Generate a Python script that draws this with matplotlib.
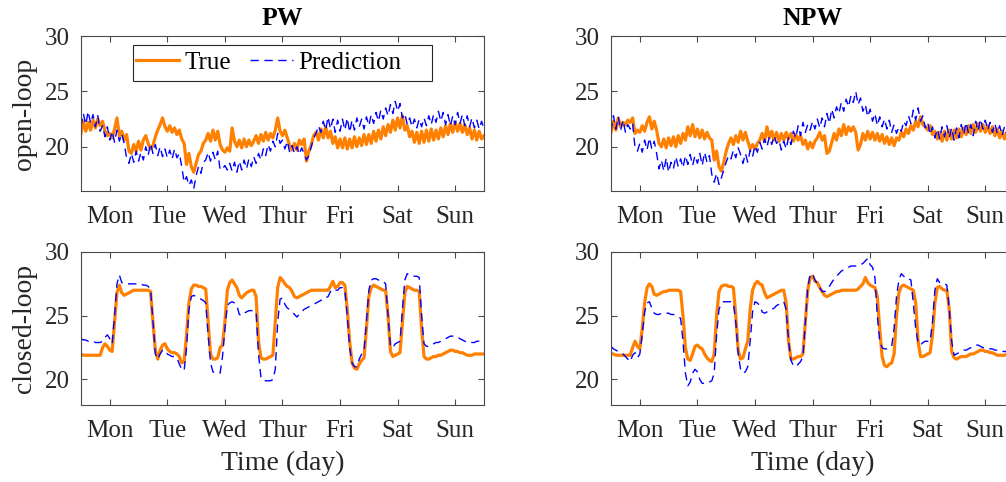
import numpy as np
import matplotlib
matplotlib.use("Agg")
import matplotlib.pyplot as plt
from matplotlib.patches import Rectangle

# Hourly room temperature over one week (hour 0 .. 168).
days = ["Mon", "Tue", "Wed", "Thur", "Fri", "Sat", "Sun"]
cols = ["PW", "NPW"]
rows = ["open-loop", "closed-loop"]

pw_ol_true = [
    21.2, 22.3, 21.4, 22.2, 21.5, 22.4, 21.7, 22.5, 21.9, 22.3, 21.4, 21.0,
    21.2, 20.8, 21.6, 22.6, 21.0, 21.4, 20.6, 21.1, 19.6, 19.4, 20.2, 19.6,
    20.5, 19.7, 20.6, 21.0, 20.3, 19.8, 20.1, 20.9, 21.5, 22.0, 22.6, 21.8,
    21.4, 21.9, 21.3, 21.7, 21.1, 21.5, 20.7, 20.3, 18.4, 19.4, 18.2, 17.7,
    18.5, 19.3, 19.6, 20.3, 20.6, 21.2, 20.5, 21.5, 20.6, 21.4, 20.2, 19.7,
    19.5, 19.9, 19.6, 21.7, 20.5, 20.0, 20.6, 19.9, 20.7, 20.0, 20.6, 20.1,
    20.5, 21.0, 20.3, 21.1, 20.5, 21.3, 20.6, 21.2, 20.8, 21.5, 22.6, 21.4,
    21.0, 21.5, 20.8, 20.1, 19.7, 20.3, 19.7, 20.6, 20.2, 20.7, 18.7, 19.6,
    20.2, 21.0, 21.3, 20.6, 21.6, 20.8, 21.8, 20.8, 21.4, 20.3, 20.9, 19.9,
    20.7, 19.9, 20.8, 19.8, 20.7, 19.9, 20.9, 20.0, 20.8, 20.1, 21.1, 20.2,
    21.1, 20.3, 21.4, 20.5, 21.5, 20.7, 21.8, 21.0, 22.0, 21.3, 22.4, 21.5,
    22.6, 21.7, 22.8, 21.5, 21.9, 20.9, 21.4, 20.4, 21.3, 20.3, 21.4, 20.4,
    21.5, 20.5, 21.6, 20.6, 21.5, 20.7, 21.7, 20.9, 21.9, 21.1, 22.1, 21.3,
    22.2, 21.4, 22.1, 21.3, 22.0, 21.1, 21.7, 20.7, 21.5, 20.6, 21.4, 20.7,
    21.0,
]
pw_ol_pred = [
    21.8, 23.0, 22.0, 23.2, 22.1, 22.9, 21.8, 22.8, 21.4, 21.9, 20.9, 21.8,
    20.6, 21.4, 20.4, 21.5, 20.5, 21.2, 20.3, 19.0, 18.5, 19.4, 18.6, 19.6,
    18.7, 19.5, 18.8, 20.0, 19.2, 20.3, 19.4, 20.2, 19.2, 20.0, 19.1, 19.8,
    19.0, 19.7, 18.9, 19.8, 19.0, 19.4, 18.2, 16.8, 17.3, 16.5, 17.0, 16.2,
    17.4, 18.2, 17.6, 18.6, 18.8, 19.5, 18.7, 19.5, 18.8, 19.6, 17.9, 18.0,
    18.3, 17.9, 18.5, 17.8, 18.6, 17.7, 18.7, 17.9, 18.8, 18.0, 18.9, 18.2,
    19.1, 18.5, 19.4, 18.8, 19.8, 19.2, 20.2, 19.6, 20.5, 20.0, 21.2, 20.3,
    20.6, 19.8, 20.5, 19.5, 20.1, 19.4, 20.0, 19.3, 19.9, 19.4, 18.8, 19.2,
    20.0, 20.8, 21.2, 21.9, 21.3, 22.3, 21.5, 22.7, 21.6, 22.5, 21.3, 22.4,
    21.4, 22.5, 21.5, 22.6, 21.3, 22.4, 21.5, 22.6, 21.8, 22.5, 21.6, 22.7,
    21.9, 22.9, 22.1, 23.1, 22.3, 23.3, 22.5, 23.5, 22.8, 23.8, 23.0, 24.1,
    23.2, 23.9, 22.6, 23.0, 22.0, 22.6, 21.8, 22.5, 21.7, 22.5, 21.8, 22.6,
    21.9, 22.8, 22.0, 22.9, 22.2, 23.2, 22.3, 23.1, 22.0, 22.9, 21.9, 22.8,
    22.0, 23.1, 22.1, 22.9, 21.9, 22.8, 21.8, 22.6, 21.7, 22.4, 21.6, 22.3,
    21.6,
]
npw_ol_true = [
    21.3, 22.3, 21.5, 22.6, 21.8, 22.2, 22.0, 22.4, 22.2, 22.6, 21.2, 21.5,
    21.3, 21.9, 21.4, 22.2, 22.7, 21.6, 22.3, 21.5, 20.3, 20.0, 20.7, 19.9,
    20.8, 20.1, 20.9, 20.0, 21.0, 20.3, 21.2, 20.6, 21.8, 21.0, 22.0, 20.9,
    21.6, 20.8, 21.5, 20.7, 21.3, 20.8, 20.6, 18.8, 19.6, 18.2, 17.8, 18.6,
    19.6, 20.3, 20.8, 20.2, 21.0, 20.4, 21.4, 20.6, 21.3, 20.5, 19.8, 20.2,
    19.8, 20.3, 20.6, 21.2, 20.5, 21.8, 20.8, 21.4, 20.6, 21.3, 20.5, 21.2,
    20.6, 21.3, 20.7, 21.2, 20.5, 21.1, 20.6, 21.0, 20.2, 20.6, 19.8, 20.4,
    19.9, 20.5, 20.8, 21.3, 20.6, 21.0, 19.4, 19.6, 20.4, 21.2, 20.6, 21.6,
    21.0, 22.0, 21.1, 21.8, 21.4, 21.8, 21.3, 19.7, 20.2, 21.2, 20.6, 21.4,
    20.7, 21.3, 20.6, 21.2, 20.5, 21.1, 20.3, 20.9, 20.2, 20.8, 20.1, 20.8,
    20.6, 21.3, 20.9, 21.6, 21.2, 21.9, 21.5, 22.3, 21.8, 22.7, 22.0, 21.8,
    21.5, 21.9, 21.1, 21.4, 20.7, 21.3, 20.5, 21.4, 20.6, 21.5, 20.7, 21.5,
    20.8, 21.6, 20.9, 21.7, 21.1, 21.9, 21.2, 22.0, 21.3, 22.1, 21.4, 22.0,
    21.3, 21.9, 21.2, 21.8, 21.0, 21.6, 20.8, 21.4, 20.7, 21.3, 20.8, 21.2,
    21.0,
]
npw_ol_pred = [
    21.4, 22.8, 21.6, 22.7, 21.5, 22.4, 21.3, 22.0, 21.6, 22.1, 19.9, 19.6,
    20.3, 19.5, 20.6, 19.7, 20.8, 19.8, 20.5, 19.4, 18.0, 18.8, 17.8, 19.0,
    17.7, 18.6, 18.0, 19.1, 18.2, 18.9, 18.1, 19.2, 18.4, 19.3, 18.3, 19.2,
    18.5, 19.4, 18.3, 19.5, 18.6, 19.2, 17.5, 16.8, 17.6, 16.6, 17.2, 17.9,
    18.6, 19.2, 18.9, 19.7, 19.0, 19.9, 19.3, 18.5, 19.4, 18.6, 19.7, 19.1,
    20.1, 19.5, 20.4, 19.8, 20.7, 20.0, 20.9, 20.2, 21.0, 20.3, 20.6, 19.7,
    20.5, 19.8, 20.9, 20.2, 21.4, 20.8, 21.9, 21.0, 22.2, 21.3, 22.0, 21.5,
    22.3, 21.6, 22.5, 21.7, 22.6, 21.8, 23.0, 22.1, 23.4, 22.6, 23.6, 23.0,
    24.0, 23.2, 24.3, 23.6, 24.6, 24.0, 25.0, 23.8, 24.4, 23.2, 23.8, 22.7,
    23.4, 22.3, 23.0, 21.9, 22.7, 21.8, 22.5, 21.6, 22.4, 21.3, 22.0, 21.2,
    21.8, 21.4, 22.3, 21.9, 22.8, 22.1, 23.3, 22.4, 23.5, 22.3, 22.8, 21.7,
    22.2, 21.1, 21.8, 20.8, 21.6, 20.7, 21.8, 20.9, 21.9, 20.8, 21.7, 20.6,
    21.7, 20.8, 22.0, 21.1, 22.2, 21.2, 22.0, 21.0, 22.3, 21.4, 22.5, 21.6,
    22.4, 21.5, 22.2, 21.3, 22.1, 21.2, 21.9, 21.0, 21.8, 21.1, 21.7, 21.0,
    21.2,
]

pw_cl_true = [
    22.0, 21.9, 21.9, 21.9, 21.9, 21.9, 21.9, 21.9, 21.9, 22.5, 22.8, 22.6,
    22.3, 22.2, 24.5, 26.8, 27.4, 26.8, 26.6, 26.7, 26.8, 26.9, 27.0, 27.0,
    27.0, 27.0, 27.0, 27.0, 27.0, 26.9, 24.5, 22.3, 21.6, 22.3, 22.7, 22.8,
    22.4, 22.2, 22.1, 22.1, 22.0, 21.8, 21.3, 21.4, 23.5, 26.0, 27.1, 27.4,
    27.4, 27.3, 27.3, 27.2, 27.1, 24.5, 22.0, 21.6, 21.6, 21.7, 22.5, 22.7,
    24.5, 27.0, 27.6, 27.8, 27.5, 27.2, 26.6, 26.4, 26.6, 26.8, 26.9, 27.0,
    27.0, 26.5, 23.0, 21.7, 21.6, 21.6, 21.7, 21.8, 21.9, 24.5, 27.2, 28.0,
    27.8, 27.5, 27.3, 27.2, 26.9, 26.5, 26.4, 26.5, 26.6, 26.7, 26.8, 26.9,
    27.0, 27.0, 27.0, 27.0, 27.0, 27.0, 27.0, 27.0, 27.3, 27.7, 27.2, 27.3,
    27.6, 27.6, 27.4, 25.5, 23.0, 21.3, 20.9, 20.8, 21.2, 21.5, 21.7, 24.0,
    26.5, 27.2, 27.4, 27.3, 27.2, 27.1, 27.0, 27.0, 25.0, 22.2, 21.8, 21.9,
    22.0, 22.1, 24.5, 26.8, 27.3, 27.2, 27.1, 27.0, 27.0, 26.9, 24.0, 21.8,
    21.6, 21.6, 21.7, 21.8, 21.8, 21.9, 21.9, 22.0, 22.1, 22.2, 22.3, 22.3,
    22.2, 22.2, 22.1, 22.1, 22.0, 21.9, 21.9, 21.9, 22.0, 22.0, 22.0, 22.0,
    22.0,
]
pw_cl_pred = [
    23.2, 23.1, 23.1, 23.0, 23.0, 23.0, 22.9, 22.9, 22.9, 23.0, 23.3, 23.5,
    23.2, 22.8, 25.0, 27.5, 28.2, 27.6, 27.5, 27.5, 27.5, 27.5, 27.5, 27.5,
    27.5, 27.5, 27.4, 27.4, 27.3, 27.1, 24.5, 22.0, 21.6, 22.0, 22.3, 22.3,
    22.0, 21.9, 21.8, 21.8, 21.7, 21.2, 20.8, 20.7, 22.5, 25.5, 26.5, 26.6,
    26.5, 26.4, 26.3, 26.2, 26.0, 23.5, 21.3, 20.6, 20.5, 20.5, 20.5, 21.8,
    24.0, 25.8, 26.0, 26.1, 26.0, 25.8, 25.1, 25.0, 25.2, 25.3, 25.4, 25.4,
    25.4, 25.3, 22.0, 20.2, 19.9, 19.9, 19.9, 19.9, 20.0, 20.8, 24.5, 26.3,
    26.4, 25.9, 25.6, 25.5, 25.3, 25.1, 24.9, 25.1, 25.3, 25.5, 25.6, 25.7,
    25.8, 25.9, 26.0, 26.1, 26.2, 26.4, 26.4, 26.5, 26.9, 27.1, 27.0, 27.0,
    27.2, 27.2, 27.0, 25.0, 22.5, 21.3, 21.0, 21.0, 21.6, 22.0, 22.3, 24.5,
    27.0, 27.8, 27.9, 27.9, 27.8, 27.8, 27.7, 27.5, 25.0, 22.6, 22.5, 22.8,
    22.9, 23.0, 25.5, 27.8, 28.3, 28.2, 28.1, 28.1, 28.1, 28.0, 25.0, 22.8,
    22.6, 22.6, 22.7, 22.8, 22.9, 22.9, 23.0, 23.1, 23.2, 23.3, 23.4, 23.4,
    23.3, 23.3, 23.2, 23.1, 23.0, 22.9, 22.9, 22.9, 22.9, 23.0, 23.0, 23.0,
    23.0,
]
npw_cl_true = [
    22.0, 22.0, 21.9, 21.9, 21.9, 21.9, 21.9, 21.9, 21.9, 22.5, 23.0, 22.6,
    22.4, 24.0, 26.0, 27.2, 27.5, 27.3, 26.7, 26.6, 26.7, 26.8, 26.9, 26.9,
    27.0, 27.0, 27.0, 27.0, 27.0, 26.9, 25.0, 22.5, 21.6, 21.5, 22.0, 22.6,
    22.7, 22.5, 22.4, 22.0, 21.7, 21.5, 21.4, 22.0, 25.0, 26.9, 27.3, 27.4,
    27.4, 27.3, 27.3, 27.2, 25.0, 22.3, 21.6, 21.7, 22.4, 23.0, 25.5, 27.0,
    27.5, 27.7, 27.5, 27.4, 26.8, 26.4, 26.5, 26.6, 26.7, 26.8, 26.9, 27.0,
    27.0, 26.0, 23.0, 21.6, 21.6, 21.7, 21.8, 21.8, 22.0, 24.5, 27.0, 28.0,
    28.1, 27.7, 27.6, 27.2, 26.9, 26.6, 26.5, 26.6, 26.7, 26.8, 26.9, 26.9,
    27.0, 27.0, 27.0, 27.0, 27.0, 27.0, 27.0, 27.1, 27.3, 27.5, 28.0, 27.6,
    27.4, 27.3, 27.2, 26.5, 24.0, 21.8, 21.1, 21.0, 21.2, 21.3, 22.0, 25.0,
    26.8, 27.3, 27.4, 27.3, 27.2, 27.1, 27.0, 26.0, 23.0, 21.8, 21.8, 21.9,
    22.0, 22.1, 23.5, 26.0, 27.2, 27.3, 27.1, 27.0, 27.0, 25.5, 22.2, 21.7,
    21.6, 21.7, 21.8, 21.8, 21.8, 21.9, 22.0, 22.0, 22.1, 22.2, 22.3, 22.3,
    22.2, 22.2, 22.1, 22.1, 22.0, 21.9, 21.9, 21.9, 21.9, 22.0, 22.0, 22.0,
    22.0,
]
npw_cl_pred = [
    22.6, 22.4, 22.3, 22.2, 22.1, 22.0, 21.8, 21.6, 21.4, 21.9, 22.1, 21.7,
    22.0, 23.5, 25.3, 26.0, 26.1, 25.6, 25.2, 25.1, 25.1, 25.2, 25.2, 25.2,
    25.2, 25.1, 25.1, 25.0, 24.9, 24.8, 23.0, 20.5, 19.5, 19.8, 20.5, 20.8,
    20.6, 20.0, 19.7, 19.7, 19.7, 19.8, 19.9, 20.5, 23.5, 25.5, 26.0, 26.1,
    26.1, 26.1, 26.1, 26.0, 24.5, 22.0, 20.8, 20.5, 20.6, 21.0, 23.0, 25.3,
    26.1, 26.0, 25.8, 25.3, 25.2, 25.3, 25.4, 25.5, 25.6, 25.8, 25.9, 26.0,
    26.1, 25.5, 23.0, 21.5, 21.1, 21.0, 21.2, 21.4, 21.8, 24.5, 27.2, 28.2,
    28.3, 27.8, 27.5, 27.2, 26.9, 26.9, 27.0, 27.3, 27.6, 27.9, 28.1, 28.3,
    28.5, 28.6, 28.7, 28.8, 28.9, 28.9, 28.9, 28.9, 29.0, 29.1, 29.3, 29.5,
    29.0, 28.8, 28.0, 25.0, 23.0, 22.5, 22.4, 22.4, 22.5, 22.6, 24.0, 26.5,
    27.8, 28.3, 28.1, 27.9, 27.9, 27.8, 26.0, 24.0, 22.9, 22.7, 22.9, 23.0,
    23.0, 23.0, 24.5, 27.0, 27.9, 27.6, 27.5, 27.5, 27.4, 25.5, 23.0, 21.9,
    22.0, 22.1, 22.2, 22.3, 22.3, 22.4, 22.5, 22.6, 22.7, 22.7, 22.6, 22.5,
    22.5, 22.5, 22.4, 22.4, 22.3, 22.3, 22.2, 22.2, 22.2, 22.2, 22.1, 22.1,
    22.1,
]

ylims = [(16, 30), (18, 30)]
series = [[(pw_ol_true, pw_ol_pred), (npw_ol_true, npw_ol_pred)],
          [(pw_cl_true, pw_cl_pred), (npw_cl_true, npw_cl_pred)]]

plt.rcParams["font.family"] = ["Liberation Serif", "DejaVu Serif"]
TXT = "#262626"
EDGE = "#4a4a4a"

fig = plt.figure(figsize=(10.06, 4.82), dpi=100)
lefts = [0.0805, 0.6074]
bottoms = [0.6037, 0.1598]
heights = [0.3216, 0.3174]
width = 0.4006

hours = np.arange(len(pw_ol_true))
for r in range(2):
    for c in range(2):
        ax = fig.add_axes([lefts[c], bottoms[r], width, heights[r]])
        y_true, y_pred = series[r][c]
        ax.plot(hours, y_true, color="#ff8000", lw=2.3, label="True",
                solid_joinstyle="round")
        ax.plot(hours, y_pred, color="#0000ff", lw=1.0, ls=(0, (6, 4)),
                label="Prediction")
        ax.set_xlim(0, 168)
        ax.set_ylim(*ylims[r])
        ax.set_xticks(12 + 24*np.arange(len(days)))
        ax.set_xticklabels(days)
        ax.set_yticks([20, 25, 30])
        ax.tick_params(direction="in", length=4, width=0.8, colors=EDGE,
                       labelcolor=TXT, labelsize=18, top=True, right=True)
        ax.tick_params(axis="x", pad=11)
        ax.tick_params(axis="y", pad=8)
        for s in ax.spines.values():
            s.set_color(EDGE)
            s.set_linewidth(0.8)
        if r == 0:
            ax.set_title(cols[c], fontsize=18.5, fontweight="bold", color="black", pad=8)
        else:
            ax.set_xlabel("Time (day)", fontsize=20, color=TXT, labelpad=6)
        if c == 0:
            ax.set_ylabel(rows[r], fontsize=20, color=TXT, labelpad=6)
        if r == 0 and c == 0:
            # legend box is wider than its entries, with the slack on the right
            ax.add_patch(Rectangle((0.129, 0.710), 0.742, 0.232, transform=ax.transAxes,
                                   facecolor="white", edgecolor=TXT, lw=0.8, zorder=4))
            leg = ax.legend(loc="center left", bbox_to_anchor=(0.137, 0.826), ncol=2,
                            fontsize=18, frameon=False,
                            handlelength=1.72, handletextpad=0.2, columnspacing=0.76,
                            borderpad=0, borderaxespad=0)
            leg.set_zorder(5)

fig.savefig("out.png", dpi=100)
